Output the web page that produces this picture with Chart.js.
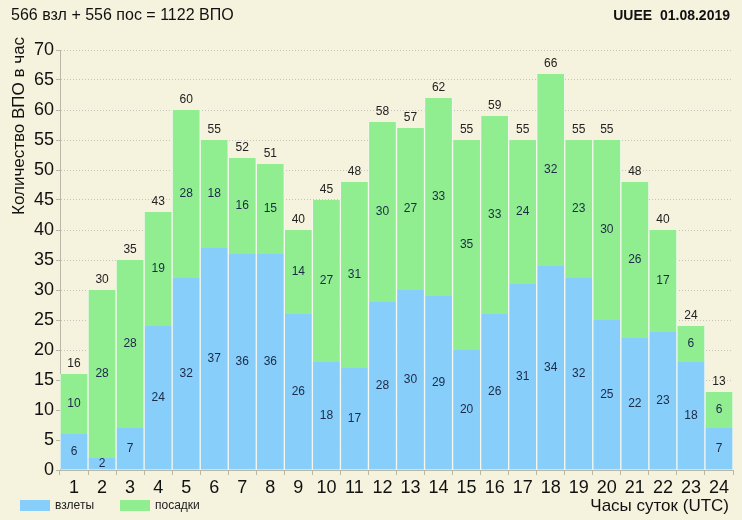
<!DOCTYPE html>
<html>
<head>
<meta charset="utf-8">
<script src="https://cdn.jsdelivr.net/npm/chart.js@4"></script>
<style>
  body { margin: 0; background: #f5f2de; }
  #wrap { width: 742px; height: 520px; position: relative; }
</style>
</head>
<body>
<div id="wrap"><canvas id="vpoChart"></canvas></div>
<script>
// hours of day (UTC)
const hours = ['1','2','3','4','5','6','7','8','9','10','11','12','13','14','15','16','17','18','19','20','21','22','23','24'];
// takeoffs per hour
const takeoffs = [6, 2, 7, 24, 32, 37, 36, 36, 26, 18, 17, 28, 30, 29, 20, 26, 31, 34, 32, 25, 22, 23, 18, 7];
// landings per hour
const landings = [10, 28, 28, 19, 28, 18, 16, 15, 14, 27, 31, 30, 27, 33, 35, 33, 24, 32, 23, 30, 26, 17, 6, 6];
const yTicks = [0, 5, 10, 15, 20, 25, 30, 35, 40, 45, 50, 55, 60, 65, 70];

const headerLeft = '566 взл + 556 пос = 1122 ВПО';
const headerRight = 'UUEE  01.08.2019';
const yTitle = 'Количество ВПО в час';
const xTitle = 'Часы суток (UTC)';

const blue = '#87cefa';
const green = '#90ee90';

// draw numbers inside segments and totals above bars
const valueLabels = {
    id: 'valueLabels',
    afterDatasetsDraw(chart) {
        const ctx = chart.ctx;
        ctx.save();
        ctx.font = '12px "Liberation Sans", Arial, sans-serif';
        ctx.textAlign = 'center';
        ctx.textBaseline = 'middle';
        chart.data.datasets.forEach(function(ds, di) {
            const meta = chart.getDatasetMeta(di);
            meta.data.forEach(function(bar, i) {
                const top = bar.y, bottom = bar.base;
                ctx.fillStyle = '#1c2a48';
                ctx.fillText(ds.data[i], bar.x, (top + bottom) / 2);
            });
        });
        const last = chart.getDatasetMeta(1);
        ctx.fillStyle = '#222';
        last.data.forEach(function(bar, i) {
            ctx.fillText(takeoffs[i] + landings[i], bar.x, bar.y - 10);
        });
        ctx.restore();
    }
};

// headers, axis titles and legend
const decorations = {
    id: 'decorations',
    afterDraw(chart) {
        const ctx = chart.ctx;
        ctx.save();
        ctx.fillStyle = '#111';
        ctx.textBaseline = 'middle';
        ctx.font = '16px "Liberation Sans", Arial, sans-serif';
        ctx.textAlign = 'left';
        ctx.fillText(headerLeft, 11, 16);
        ctx.font = 'bold 14px "Liberation Sans", Arial, sans-serif';
        ctx.textAlign = 'right';
        ctx.fillText(headerRight, 730, 16);

        ctx.font = '17px "Liberation Sans", Arial, sans-serif';
        ctx.textAlign = 'right';
        ctx.fillText(xTitle, 729, 506);

        ctx.save();
        ctx.translate(19, 215);
        ctx.rotate(-Math.PI / 2);
        ctx.textAlign = 'left';
        ctx.fillText(yTitle, 0, 0);
        ctx.restore();

        ctx.font = '12px "Liberation Sans", Arial, sans-serif';
        ctx.textAlign = 'left';
        chart.data.datasets.forEach(function(ds, di) {
            const x0 = 20 + di * 100;
            ctx.fillStyle = ds.backgroundColor;
            ctx.fillRect(x0, 500, 30, 11);
            ctx.fillStyle = '#222';
            ctx.fillText(ds.label, x0 + 35, 506);
        });
        ctx.restore();
    }
};

new Chart(document.getElementById('vpoChart'), {
    type: 'bar',
    data: {
        labels: hours,
        datasets: [
            {
                label: 'взлеты',
                data: takeoffs,
                backgroundColor: blue,
                borderColor: '#f4f7ee',
                borderWidth: { left: 1, right: 1, top: 0, bottom: 0 },
                borderSkipped: false
            },
            {
                label: 'посадки',
                data: landings,
                backgroundColor: green,
                borderColor: '#f4f7ee',
                borderWidth: { left: 1, right: 1, top: 0, bottom: 0 },
                borderSkipped: false
            }
        ]
    },
    options: {
        responsive: true,
        maintainAspectRatio: false,
        animation: false,
        layout: { padding: { top: 50, right: 9, left: 0, bottom: 0 } },
        plugins: {
            legend: { display: false },
            title: { display: false },
            tooltip: { enabled: false }
        },
        datasets: { bar: { barPercentage: 1, categoryPercentage: 1 } },
        scales: {
            x: {
                stacked: true,
                afterFit: function(scale) { scale.height = 50; },
                grid: {
                    display: true,
                    drawOnChartArea: false,
                    offset: true,
                    tickLength: 5,
                    color: '#b8b8a8'
                },
                border: { color: '#b8b8a8' },
                ticks: {
                    color: '#111',
                    padding: 2,
                    font: { size: 18, family: '"Liberation Sans", Arial, sans-serif' }
                }
            },
            y: {
                stacked: true,
                min: 0,
                max: 70,
                afterFit: function(scale) { scale.width = 60; },
                afterBuildTicks: function(scale) {
                    scale.ticks = yTicks.map(v => ({ value: v }));
                },
                grid: {
                    color: '#c4c4b8',
                    tickLength: 4,
                    tickColor: '#b8b8a8',
                    tickBorderDash: []
                },
                border: { color: '#b8b8a8', dash: [1, 2] },
                ticks: {
                    color: '#111',
                    padding: 2,
                    font: { size: 18, family: '"Liberation Sans", Arial, sans-serif' }
                }
            }
        }
    },
    plugins: [valueLabels, decorations]
});
</script>
</body>
</html>
